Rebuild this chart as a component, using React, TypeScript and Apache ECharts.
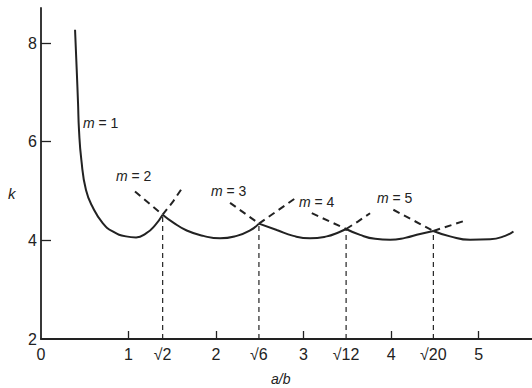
import React, { useEffect, useRef } from "react";
import * as echarts from "echarts";

// Tick positions and labels
const xTickValues = [1, 2, 3, 4, 5];
const xLabelValues = [0, 1, 1.39, 2, 2.49, 3, 3.486, 4, 4.483, 5];
const xLabelTexts = ["0", "1", "√2", "2", "√6", "3", "√12", "4", "√20", "5"];
const yTickValues = [4, 6, 8];
const yLabelValues = [2, 4, 6, 8];

// Solid envelope segments, [a/b, k]
const m1Solid = [[0.389, 8.27], [0.408, 7.46], [0.423, 6.79], [0.434, 6.24], [0.461, 5.63], [0.514, 5.02], [0.594, 4.66], [0.705, 4.35], [0.819, 4.18], [0.971, 4.08], [1.086, 4.06], [1.2, 4.14], [1.3, 4.3], [1.39, 4.52]];
const m2Solid = [[1.39, 4.52], [1.512, 4.36], [1.665, 4.2], [1.855, 4.09], [2.046, 4.04], [2.237, 4.09], [2.389, 4.2], [2.49, 4.34]];
const m3Solid = [[2.49, 4.34], [2.694, 4.21], [2.883, 4.09], [3.074, 4.04], [3.265, 4.08], [3.398, 4.16], [3.486, 4.23]];
const m4Solid = [[3.486, 4.23], [3.646, 4.11], [3.817, 4.03], [3.989, 4.01], [4.16, 4.05], [4.331, 4.13], [4.483, 4.19]];
const m5Solid = [[4.483, 4.19], [4.674, 4.08], [4.903, 4.01], [5.131, 4.02], [5.303, 4.09], [5.398, 4.18]];

// Dashed continuations
const m1DashR = [[1.39, 4.52], [1.51, 4.79], [1.62, 5.08]];
const m2DashL = [[1.074, 4.99], [1.39, 4.52]];
const m2DashR = [[2.49, 4.34], [2.7, 4.6], [2.903, 4.85]];
const m3DashL = [[2.16, 4.76], [2.49, 4.34]];
const m3DashR = [[3.486, 4.23], [3.62, 4.38], [3.76, 4.55]];
const m4DashL = [[3.094, 4.55], [3.486, 4.23]];
const m4DashR = [[4.483, 4.19], [4.846, 4.4]];
const m5DashL = [[4.026, 4.62], [4.483, 4.19]];

// Crossing points (vertical dashed guides)
const crossX = [1.39, 2.49, 3.486, 4.483];
const crossK = [4.52, 4.34, 4.23, 4.19];

const mLabels = ["1", "2", "3", "4", "5"];

const INK = "#222222";
const FONT = "Liberation Sans, Arial, sans-serif";

export default function App() {
  const ref = useRef<HTMLDivElement>(null);
  useEffect(() => {
    if (!ref.current) return;
    const chart = echarts.init(ref.current, null, { renderer: "svg" });

    const solid = (data: number[][]) => ({
      type: "line",
      data,
      smooth: true,
      showSymbol: false,
      symbol: "none",
      lineStyle: { color: INK, width: 2 },
      z: 3,
    });
    const dashed = (data: number[][]) => ({
      type: "line",
      data,
      smooth: false,
      showSymbol: false,
      symbol: "none",
      lineStyle: { color: INK, width: 2, type: [7, 5] },
      z: 2,
    });
    const guides = crossX.map((x, i) => ({
      type: "line",
      data: [[x, 2], [x, crossK[i]]],
      showSymbol: false,
      symbol: "none",
      lineStyle: { color: INK, width: 1.2, type: [5, 4] },
      z: 1,
    }));

    const mPos = [
      [83, 124],
      [116, 177],
      [211, 192],
      [299, 203],
      [377, 199],
    ];

    chart.setOption({
      animation: false,
      backgroundColor: "#ffffff",
      grid: { left: 41, right: 0, top: 8, bottom: 49, containLabel: false, outerBoundsMode: "none" },
      xAxis: {
        type: "value",
        min: 0,
        max: 5.61,
        axisLine: { show: true, onZero: false, lineStyle: { color: INK, width: 1.8 } },
        axisTick: { show: true, inside: true, length: 8, customValues: xTickValues, lineStyle: { color: INK, width: 1.3 } },
        axisLabel: {
          customValues: xLabelValues,
          formatter: (v: number) => {
            const i = xLabelValues.findIndex((u) => Math.abs(u - v) < 1e-6);
            return i >= 0 ? xLabelTexts[i] : "";
          },
          fontSize: 16,
          color: INK,
          fontFamily: FONT,
          margin: 7,
        },
        splitLine: { show: false },
      },
      yAxis: {
        type: "value",
        min: 2,
        max: 8.71,
        axisLine: { show: true, onZero: false, lineStyle: { color: INK, width: 1.8 } },
        axisTick: { show: true, inside: true, length: 10, customValues: yTickValues, lineStyle: { color: INK, width: 1.3 } },
        axisLabel: {
          customValues: yLabelValues,
          fontSize: 16,
          color: INK,
          fontFamily: FONT,
          margin: 4,
        },
        splitLine: { show: false },
      },
      graphic: [
        {
          type: "text",
          left: 8,
          top: 186,
          style: { text: "k", font: `italic 15px ${FONT}`, fill: INK },
        },
        {
          type: "text",
          left: 271,
          top: 372,
          style: { text: "a/b", font: `italic 14px ${FONT}`, fill: INK },
        },
        ...mLabels.map((m, i) => ({
          type: "text",
          left: mPos[i][0],
          top: mPos[i][1] - 8,
          style: {
            text: `{i|m} = ${m}`,
            rich: { i: { font: `italic 14px ${FONT}`, fill: INK } },
            font: `14px ${FONT}`,
            fill: INK,
          },
        })),
      ],
      series: [
        solid(m1Solid),
        solid(m2Solid),
        solid(m3Solid),
        solid(m4Solid),
        solid(m5Solid),
        dashed(m1DashR),
        dashed(m2DashL),
        dashed(m2DashR),
        dashed(m3DashL),
        dashed(m3DashR),
        dashed(m4DashL),
        dashed(m4DashR),
        dashed(m5DashL),
        ...guides,
      ],
    });
    return () => chart.dispose();
  }, []);
  return (
    <div
      ref={ref}
      style={{ position: "fixed", left: 0, top: 0, width: 532, height: 388, background: "#fff" }}
    />
  );
}
